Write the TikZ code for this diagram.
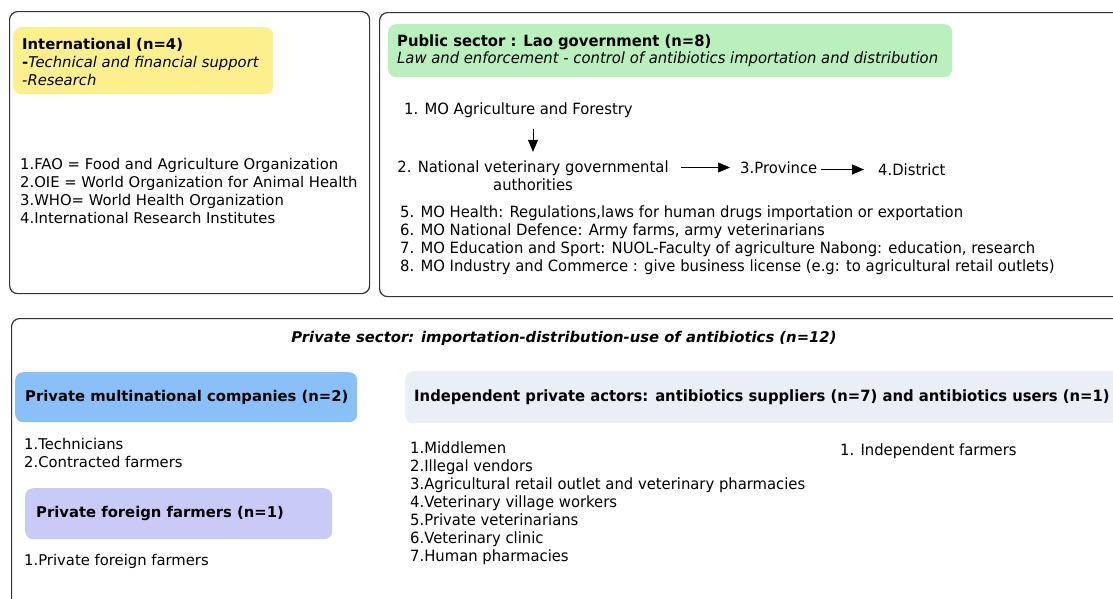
\documentclass[tikz,border=0pt]{standalone}
\usepackage{fontspec}
\setmainfont{DejaVu Sans}
\newfontfamily\cond[FakeStretch=0.955]{DejaVu Sans}
\usetikzlibrary{arrows.meta}
\definecolor{frameC}{HTML}{333333}
\definecolor{yelC}{HTML}{FBF08C}
\definecolor{grnC}{HTML}{BAF0BE}
\definecolor{bluC}{HTML}{89C0F8}
\definecolor{purC}{HTML}{C9CAF6}
\definecolor{lgtC}{HTML}{E9EFF5}
\tikzset{
  frame/.style={draw=frameC, line width=1.2pt, rounded corners=8pt, anchor=north west, inner sep=0pt},
  tag/.style={rounded corners=8pt, anchor=north west, inner sep=0pt},
  txt/.style={inner sep=0pt, anchor=west, align=left, font=\fontsize{14.8}{18}\selectfont},
  ctxt/.style={inner sep=0pt, anchor=west, align=left, font=\cond\fontsize{15.5}{18}\selectfont},
  arr/.style={-{Triangle[length=12pt,width=10pt]}, line width=1pt}
}
\begin{document}
\begin{tikzpicture}[x=1pt,y=-1pt]
\useasboundingbox (0,0) rectangle (1113,598);
\clip (0,0) rectangle (1113,598);
% frames
\node[frame, minimum width=360, minimum height=282] (intlF) at (9,11) {};
\node[frame, minimum width=745, minimum height=284] (pubF) at (379,12) {};
\node[frame, minimum width=1110, minimum height=300] (privF) at (11,318) {};
% colored headers
\node[tag, fill=yelC, minimum width=260, minimum height=67] (yel) at (13,27) {};
\node[tag, fill=grnC, minimum width=564, minimum height=53] (grn) at (388,24) {};
\node[tag, fill=bluC, minimum width=342, minimum height=50] (blu) at (15,372) {};
\node[tag, fill=purC, minimum width=307, minimum height=51] (pur) at (25,488) {};
\node[tag, fill=lgtC, minimum width=720, minimum height=52] (lgt) at (405,371) {};
% International
\node[txt] (intlT) at (22,62) {\textbf{International (n=4)}\\\textbf{-}\textit{Technical and financial support}\\\textit{-Research}};
\node[txt] (intlL) at (20,190.5) {1.FAO = Food and Agriculture Organization\\2.OIE = World Organization for Animal Health\\3.WHO= World Health Organization\\4.International Research Institutes};
% Public sector
\node[ctxt, font=\cond\fontsize{15.5}{17}\selectfont] (pubT) at (397,51) {\textbf{Public sector : Lao government (n=8)}\\\textit{Law and enforcement - control of antibiotics importation and distribution}};
\node[ctxt] (mo1) at (404,110.5) {1. MO Agriculture and Forestry};
\node[ctxt, align=center, anchor=center] (nv) at (533,176) {2. National veterinary governmental\\authorities};
\node[ctxt] (prov) at (740,167.5) {3.Province};
\node[ctxt] (dist) at (878,169.5) {4.District};
\draw[arr, line width=0.8pt, shorten <=11pt, shorten >=9pt] (mo1.south -| nv.north) -- (nv.north);
\draw[arr, line width=0.5pt, shorten <=12pt, shorten >=10pt] (nv.east |- prov.west) -- (prov.west);
\draw[arr, line width=1.2pt, shorten <=3pt, shorten >=14pt] (prov.east |- dist.west) -- (dist.west);
\node[ctxt] (moL) at (400,240.5) {5. MO Health: Regulations,laws for human drugs importation or exportation\\6. MO National Defence: Army farms, army veterinarians\\7. MO Education and Sport: NUOL-Faculty of agriculture Nabong: education, research\\8. MO Industry and Commerce : give business license (e.g: to agricultural retail outlets)};
% Private sector
\node[txt, anchor=center] (privT) at (564,338.5) {\textbf{\textit{Private sector: importation-distribution-use of antibiotics (n=12)}}};
\node[txt] (bluT) at (25,397.5) {\textbf{Private multinational companies (n=2)}};
\node[txt] (bluL) at (24,452.5) {1.Technicians\\2.Contracted farmers};
\node[txt] (purT) at (36,513.5) {\textbf{Private foreign farmers (n=1)}};
\node[txt] (purL) at (24,561.5) {1.Private foreign farmers};
\node[ctxt] (lgtT) at (414,397.5) {\textbf{Independent private actors: antibiotics suppliers (n=7) and antibiotics users (n=1)}};
\node[ctxt] (supL) at (410,503.5) {1.Middlemen\\2.Illegal vendors\\3.Agricultural retail outlet and veterinary pharmacies\\4.Veterinary village workers\\5.Private veterinarians\\6.Veterinary clinic\\7.Human pharmacies};
\node[ctxt] (usrL) at (840,451.5) {1. Independent farmers};
\end{tikzpicture}
\end{document}
